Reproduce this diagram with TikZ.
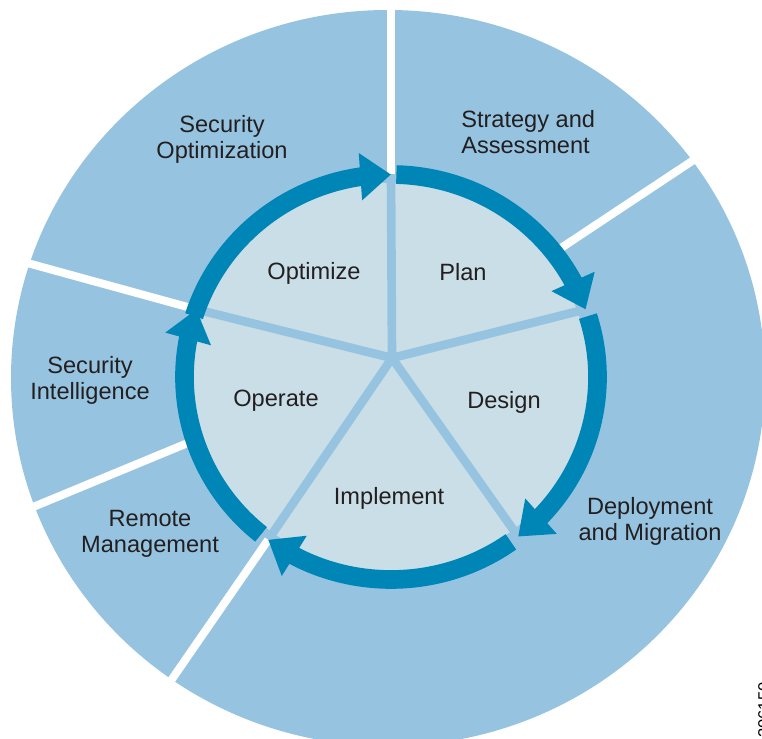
\documentclass[tikz,border=0pt]{standalone}
\usepackage{fontspec}
\setmainfont{Liberation Sans}
\usetikzlibrary{arrows.meta,bending}

\definecolor{outerblue}{RGB}{150,196,224}
\definecolor{paleblue}{RGB}{201,222,230}
\definecolor{ringblue}{RGB}{0,133,183}
\definecolor{labelgray}{RGB}{35,31,32}

\tikzset{
  phase/.style={font=\fontsize{17.7}{19.5}\selectfont, text=labelgray, align=center, inner sep=0pt},
  spoke/.style={outerblue, line width=6.5pt},
  gapline/.style={white, line width=6pt},
  cyclearrow/.style={ringblue, line width=14pt, -{Triangle[length=23pt,width=34pt,flex]}}
}

\begin{document}
\begin{tikzpicture}[x=0.75pt,y=0.75pt]
  \useasboundingbox (0,0) rectangle (762,738);
  \clip (0,0) rectangle (762,738);

  % Draw the outer disc and the inner disc
  \fill[outerblue] (388,360) ellipse [x radius=377, y radius=368];
  \coordinate (C) at (391,361);
  \coordinate (hub) at (392,380);
  \fill[paleblue] (C) ellipse [x radius=198, y radius=194];

  % Points where the spokes meet the ring
  \foreach \a/\n in {90/top, 19.5/pd, -52/di, -126.5/io, 160.5/oo}
    \coordinate (\n) at ([shift={(\a:206.5 and 202.5)}]C);

  % Draw the spokes
  \foreach \n in {top, pd, di, io, oo}
    \draw[spoke] (hub) -- (\n);

  % Draw the white gaps of the outer ring
  \draw[gapline] (top) -- (391,760);
  \draw[gapline] (555,486) -- (766,626);
  \draw[gapline] (oo) -- (-20,488);
  \draw[gapline] (195,298) -- (-8,214);
  \draw[gapline] (io) -- (130,-2);

  % Draw the arrows of the cycle
  \draw[cyclearrow] ([shift={(162.5:206.5 and 202.5)}]C) arc[start angle=162.5, end angle=90, x radius=206.5, y radius=202.5];
  \draw[cyclearrow] ([shift={(88.5:206.5 and 202.5)}]C) arc[start angle=88.5, end angle=19.5, x radius=206.5, y radius=202.5];
  \draw[cyclearrow] ([shift={(17.5:206.5 and 202.5)}]C) arc[start angle=17.5, end angle=-52, x radius=206.5, y radius=202.5];
  \draw[cyclearrow] ([shift={(-54.5:206.5 and 202.5)}]C) arc[start angle=-54.5, end angle=-126.5, x radius=206.5, y radius=202.5];
  \draw[cyclearrow] ([shift={(-129:206.5 and 202.5)}]C) arc[start angle=-129, end angle=-199.5, x radius=206.5, y radius=202.5];

  % Label the phases
  \node[phase] (optimize) at (314,465) {Optimize};
  \node[phase] (plan) at (463,466) {Plan};
  \node[phase] (design) at (504,336) {Design};
  \node[phase] (implement) at (389,240) {Implement};
  \node[phase] (operate) at (276,337) {Operate};

  % Label the services
  \node[phase] (secopt) at (222,599) {Security\\Optimization};
  \node[phase, anchor=west, align=left] (strategy) at (461,606) {Strategy and\\Assessment};
  \node[phase] (deploy) at (650,217) {Deployment\\and Migration};
  \node[phase] (remote) at (150,204) {Remote\\Management};
  \node[phase] (secintel) at (90,358) {Security\\Intelligence};

  % Figure number
  \node[font=\fontsize{12.5}{14}\selectfont, rotate=90, inner sep=0pt] (fignum) at (764,28) {306150};
\end{tikzpicture}
\end{document}
